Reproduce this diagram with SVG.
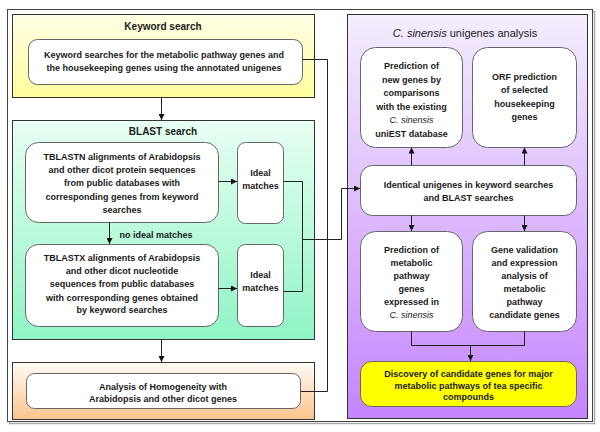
<svg xmlns="http://www.w3.org/2000/svg" width="600" height="432" viewBox="0 0 600 432">
<defs>
<linearGradient id="gY" x1="0" y1="0" x2="0" y2="1"><stop offset="0" stop-color="#ffffe6"/><stop offset="1" stop-color="#fdfd9c"/></linearGradient>
<linearGradient id="gG" x1="0" y1="0" x2="0" y2="1"><stop offset="0" stop-color="#e8fff4"/><stop offset="1" stop-color="#8ff4c6"/></linearGradient>
<linearGradient id="gO" x1="0" y1="0" x2="0" y2="1"><stop offset="0" stop-color="#fffbf6"/><stop offset="1" stop-color="#fbc48c"/></linearGradient>
<linearGradient id="gP" x1="0" y1="0" x2="0" y2="1"><stop offset="0" stop-color="#f4eefe"/><stop offset="1" stop-color="#c585fd"/></linearGradient>
<marker id="ah" viewBox="0 0 10 10" refX="10" refY="5" markerWidth="6" markerHeight="6" markerUnits="userSpaceOnUse" orient="auto"><path d="M0,0 L10,5 L0,10 z" fill="#111"/></marker>
</defs>
<style>
.panel{stroke:#333;stroke-width:1}
.box{fill:#fff;stroke:#666;stroke-width:1}
text{font-family:"Liberation Sans",Arial,sans-serif;font-size:9px;font-weight:bold;fill:#1a1a1a;text-anchor:middle}
.title{font-size:10px}
.ptitle{font-size:11px;font-weight:normal}
.it{font-style:italic;font-weight:normal}
.c{fill:none;stroke:#222;stroke-width:1}
.ca{fill:none;stroke:#222;stroke-width:1;marker-end:url(#ah)}
</style>
<rect x="0" y="0" width="600" height="432" fill="#fff"/>
<rect x="9.5" y="11.5" width="585" height="412" fill="none" stroke="#aaa" stroke-width="1.5"/>
<rect x="7.5" y="9.5" width="585" height="412" fill="#fff" stroke="#444" stroke-width="1"/>

<g id="keyword-panel">
<rect class="panel" x="12.5" y="14.5" width="302" height="83" fill="url(#gY)"/>
<text class="title" x="163" y="30">Keyword search</text>
</g>
<g id="keyword-box">
<rect class="box" x="28.5" y="39.5" width="274" height="45" rx="9"/>
<text x="164" y="57.5">Keyword searches for the metabolic pathway genes and</text>
<text x="164" y="70.5">the housekeeping genes using the annotated unigenes</text>
</g>

<g id="blast-panel">
<rect class="panel" x="12.5" y="120.5" width="302" height="219" fill="url(#gG)"/>
<text class="title" x="163" y="135">BLAST search</text>
</g>
<g id="tblastn">
<rect class="box" x="25.5" y="142.5" width="193" height="80" rx="13"/>
<text x="122" y="160">TBLASTN alignments of Arabidopsis</text>
<text x="122" y="173.2">and other dicot protein sequences</text>
<text x="122" y="186.4">from public databases with</text>
<text x="122" y="199.6">corresponding genes from keyword</text>
<text x="122" y="212.8">searches</text>
</g>
<g id="ideal1">
<rect class="box" x="237.5" y="142.5" width="46" height="81" rx="8"/>
<text x="260.5" y="175.5">Ideal</text>
<text x="260.5" y="188.5">matches</text>
</g>
<g id="tblastx">
<rect class="box" x="25.5" y="244.5" width="193" height="82" rx="13"/>
<text x="122" y="261">TBLASTX alignments of Arabidopsis</text>
<text x="122" y="274.2">and other dicot nucleotide</text>
<text x="122" y="287.4">sequences from public databases</text>
<text x="122" y="300.6">with corresponding genes obtained</text>
<text x="122" y="313.2">by keyword searches</text>
</g>
<g id="ideal2">
<rect class="box" x="237.5" y="244.5" width="46" height="82" rx="8"/>
<text x="260.5" y="277.5">Ideal</text>
<text x="260.5" y="290.5">matches</text>
</g>

<g id="analysis-panel">
<rect class="panel" x="12.5" y="362.5" width="302" height="57" fill="url(#gO)"/>
</g>
<g id="analysis-box">
<rect class="box" x="26.5" y="373.5" width="274" height="35" rx="8"/>
<text x="163" y="390">Analysis of Homogeneity with</text>
<text x="163" y="401.5">Arabidopsis and other dicot genes</text>
</g>

<g id="csinensis-panel">
<rect class="panel" x="347.5" y="14.5" width="240" height="404" fill="url(#gP)"/>
<text class="ptitle" x="465" y="37"><tspan class="it">C. sinensis</tspan> unigenes analysis</text>
</g>
<g id="newgenes">
<rect class="box" x="360.5" y="47.5" width="102" height="100" rx="15"/>
<text x="411.5" y="69">Prediction of</text>
<text x="411.5" y="82.5">new genes by</text>
<text x="411.5" y="96">comparisons</text>
<text x="411.5" y="109.5">with the existing</text>
<text x="411.5" y="123" class="it">C. sinensis</text>
<text x="411.5" y="136.5">uniEST database</text>
</g>
<g id="orf">
<rect class="box" x="472.5" y="47.5" width="104" height="100" rx="15"/>
<text x="524.5" y="79.5">ORF prediction</text>
<text x="524.5" y="93">of selected</text>
<text x="524.5" y="106.5">housekeeping</text>
<text x="524.5" y="120">genes</text>
</g>
<g id="identical">
<rect class="box" x="360.5" y="165.5" width="216" height="50" rx="12"/>
<text x="468.5" y="187.5">Identical unigenes in keyword searches</text>
<text x="468.5" y="200.5">and BLAST searches</text>
</g>
<g id="metabolic">
<rect class="box" x="360.5" y="231.5" width="102" height="100" rx="15"/>
<text x="411.5" y="252.5">Prediction of</text>
<text x="411.5" y="265.5">metabolic</text>
<text x="411.5" y="278.5">pathway</text>
<text x="411.5" y="291.5">genes</text>
<text x="411.5" y="304.5">expressed in</text>
<text x="411.5" y="317.5" class="it">C. sinensis</text>
</g>
<g id="validation">
<rect class="box" x="472.5" y="231.5" width="104" height="100" rx="15"/>
<text x="524.5" y="252.5">Gene validation</text>
<text x="524.5" y="265.5">and expression</text>
<text x="524.5" y="278.5">analysis of</text>
<text x="524.5" y="291.5">metabolic</text>
<text x="524.5" y="304.5">pathway</text>
<text x="524.5" y="317.5">candidate genes</text>
</g>
<g id="discovery">
<rect x="360.5" y="361.5" width="216" height="45" rx="11" fill="#ffff00" stroke="#666"/>
<text x="468.5" y="377">Discovery of candidate genes for major</text>
<text x="468.5" y="388.5">metabolic pathways of tea specific</text>
<text x="468.5" y="400">compounds</text>
</g>

<g id="connectors">
<path class="ca" d="M161.5,97.5 V120"/>
<path class="ca" d="M218.5,181.5 H237"/>
<path class="ca" d="M218.5,288.5 H237"/>
<path class="ca" d="M109.5,222.5 V244"/>
<text x="156" y="238">no ideal matches</text>
<path class="ca" d="M161.5,339.5 V362"/>
<path class="c" d="M283.5,181.5 H302.5 V291.5 H283.5"/>
<path class="ca" d="M302.5,239.5 H341.5 V188.5 H360"/>
<path class="c" d="M302.5,59.5 H327.5 V391.5 H300.5"/>
<path class="ca" d="M411.5,165.5 V147.5"/>
<path class="ca" d="M524.5,165.5 V147.5"/>
<path class="ca" d="M411.5,215.5 V231"/>
<path class="ca" d="M524.5,215.5 V231"/>
<path class="c" d="M411.5,331.5 V345.5 H524.5 V331.5"/>
<path class="ca" d="M470.5,345.5 V361"/>
</g>
</svg>
